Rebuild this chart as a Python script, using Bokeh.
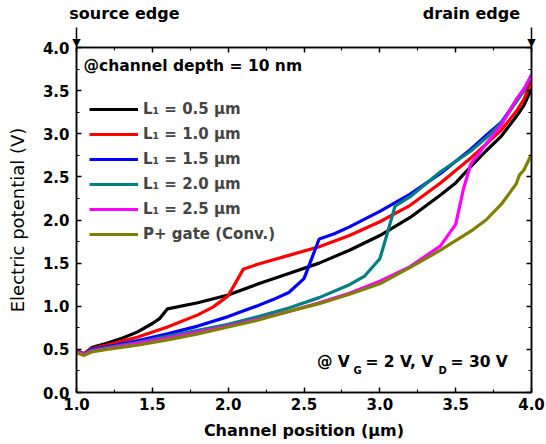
from bokeh.plotting import figure
from bokeh.models import (Legend, LegendItem, LinearAxis, Range1d, Label,
                          NumeralTickFormatter, FixedTicker)
from bokeh.embed import file_html
from bokeh.resources import INLINE

# ---- data ----
x_l05 = [1.0, 1.05, 1.1, 1.2, 1.3, 1.4, 1.5, 1.55, 1.6, 1.8, 2.0, 2.2, 2.4, 2.6, 2.8, 3.0, 3.2, 3.4, 3.5, 3.6, 3.7, 3.8, 3.9, 3.95, 4.0]
y_l05 = [0.48, 0.45, 0.52, 0.57, 0.63, 0.70, 0.80, 0.86, 0.97, 1.04, 1.13, 1.26, 1.38, 1.50, 1.65, 1.82, 2.03, 2.29, 2.43, 2.62, 2.80, 2.97, 3.20, 3.33, 3.52]

x_l10 = [1.0, 1.05, 1.1, 1.2, 1.4, 1.6, 1.8, 1.9, 2.0, 2.1, 2.2, 2.4, 2.6, 2.8, 3.0, 3.2, 3.4, 3.6, 3.7, 3.8, 3.9, 3.95, 4.0]
y_l10 = [0.48, 0.45, 0.51, 0.55, 0.64, 0.76, 0.90, 0.99, 1.12, 1.43, 1.49, 1.59, 1.69, 1.82, 1.98, 2.17, 2.43, 2.72, 2.88, 3.04, 3.26, 3.40, 3.62]

x_l15 = [1.0, 1.05, 1.1, 1.2, 1.4, 1.6, 1.8, 2.0, 2.2, 2.3, 2.4, 2.5, 2.55, 2.6, 2.7, 2.8, 3.0, 3.2, 3.4, 3.6, 3.7, 3.8, 3.9, 3.95, 4.0]
y_l15 = [0.48, 0.44, 0.50, 0.53, 0.60, 0.68, 0.77, 0.88, 1.01, 1.08, 1.16, 1.32, 1.55, 1.78, 1.84, 1.92, 2.10, 2.30, 2.54, 2.82, 2.98, 3.13, 3.38, 3.50, 3.68]

x_l20 = [1.0, 1.05, 1.1, 1.2, 1.4, 1.6, 1.8, 2.0, 2.2, 2.4, 2.6, 2.8, 2.9, 3.0, 3.05, 3.1, 3.2, 3.4, 3.6, 3.7, 3.8, 3.9, 3.95, 4.0]
y_l20 = [0.47, 0.44, 0.49, 0.52, 0.58, 0.65, 0.72, 0.79, 0.88, 0.98, 1.10, 1.25, 1.35, 1.55, 1.85, 2.16, 2.27, 2.56, 2.80, 2.95, 3.12, 3.37, 3.50, 3.68]

x_l25 = [1.0, 1.05, 1.1, 1.2, 1.4, 1.6, 1.8, 2.0, 2.2, 2.4, 2.6, 2.8, 3.0, 3.2, 3.4, 3.5, 3.55, 3.6, 3.7, 3.8, 3.9, 3.95, 4.0]
y_l25 = [0.47, 0.44, 0.48, 0.51, 0.57, 0.63, 0.70, 0.77, 0.85, 0.94, 1.04, 1.15, 1.29, 1.46, 1.70, 1.95, 2.35, 2.65, 2.88, 3.10, 3.40, 3.52, 3.68]

x_conv = [1.0, 1.05, 1.1, 1.2, 1.4, 1.6, 1.8, 2.0, 2.2, 2.4, 2.6, 2.8, 3.0, 3.2, 3.4, 3.6, 3.7, 3.8, 3.85, 3.9, 3.92, 3.95, 4.0]
y_conv = [0.46, 0.43, 0.47, 0.50, 0.55, 0.61, 0.68, 0.76, 0.84, 0.94, 1.03, 1.14, 1.26, 1.45, 1.65, 1.87, 2.00, 2.18, 2.30, 2.42, 2.52, 2.58, 2.76]

series_labels = ["L\u2081 = 0.5 \u03bcm", "L\u2081 = 1.0 \u03bcm", "L\u2081 = 1.5 \u03bcm",
                 "L\u2081 = 2.0 \u03bcm", "L\u2081 = 2.5 \u03bcm", "P+ gate (Conv.)"]
series_colors = ["#000000", "#ff0000", "#0000ff", "#008080", "#ff00ff", "#808000"]
x_ticks = [1.0, 1.5, 2.0, 2.5, 3.0, 3.5, 4.0]
y_ticks = [0.0, 0.5, 1.0, 1.5, 2.0, 2.5, 3.0, 3.5, 4.0]
edge_positions = [1.0, 4.0]
edge_label_centers = [1.316, 3.604]
edge_labels = ["source edge", "drain edge"]

FONT = "DejaVu Sans"

p = figure(width=546, height=444, output_backend="svg", toolbar_location=None,
           x_range=Range1d(1.0, 4.0), y_range=Range1d(0.0, 4.0),
           min_border_left=76, min_border_right=15, min_border_top=47, min_border_bottom=52)
p.grid.visible = False
p.outline_line_color = "black"
p.outline_line_width = 1.5
p.background_fill_color = "white"
p.border_fill_color = "white"

def style_axis(ax, ticks, labels=True):
    ax.ticker = FixedTicker(ticks=ticks, minor_ticks=[t + 0.25 for t in ticks[:-1]])
    ax.major_tick_in = 5
    ax.major_tick_out = 0
    ax.minor_tick_in = 3
    ax.minor_tick_out = 0
    ax.axis_line_width = 1.5
    ax.major_tick_line_width = 1.5
    ax.minor_tick_line_width = 1.2
    ax.axis_line_color = "black"
    ax.major_tick_line_color = "black"
    ax.minor_tick_line_color = "black"
    if labels:
        ax.formatter = NumeralTickFormatter(format="0.0")
        ax.major_label_text_font = FONT
        ax.major_label_text_font_style = "bold"
        ax.major_label_text_font_size = "15px"
        ax.major_label_text_color = "black"
    else:
        ax.major_label_text_font_size = "0px"
        ax.major_label_standoff = 0

xa = p.xaxis[0]
ya = p.yaxis[0]
style_axis(xa, x_ticks)
style_axis(ya, y_ticks)
xa.major_label_standoff = 5
ya.major_label_standoff = 7
xa.axis_label = "Channel position (\u03bcm)"
xa.axis_label_text_font = FONT
xa.axis_label_text_font_style = "bold"
xa.axis_label_text_font_size = "16px"
xa.axis_label_text_color = "black"
xa.axis_label_standoff = 8
ya.axis_label = "Electric potential (V)"
ya.axis_label_text_font = FONT
ya.axis_label_text_font_style = "normal"
ya.axis_label_text_font_size = "18px"
ya.axis_label_text_color = "black"
ya.axis_label_standoff = 12

top_ax = LinearAxis()
style_axis(top_ax, x_ticks, labels=False)
p.add_layout(top_ax, "above")
right_ax = LinearAxis()
style_axis(right_ax, y_ticks, labels=False)
p.add_layout(right_ax, "right")

# arrows at the source / drain edges: shafts are outward ticks, heads are tick labels
arrow_ax = LinearAxis(ticker=FixedTicker(ticks=edge_positions, minor_ticks=[]),
                      major_tick_out=20, major_tick_in=0, major_tick_line_width=1.5,
                      major_tick_line_color="black", axis_line_alpha=0,
                      major_label_overrides={v: "\u25bc" for v in edge_positions},
                      major_label_standoff=-21, major_label_text_font=FONT,
                      major_label_text_font_size="11px", major_label_text_color="black")
p.add_layout(arrow_ax, "above")

text_ax = LinearAxis(ticker=FixedTicker(ticks=edge_label_centers, minor_ticks=[]),
                     major_tick_out=0, major_tick_in=0, axis_line_alpha=0,
                     major_tick_line_alpha=0,
                     major_label_overrides=dict(zip(edge_label_centers, edge_labels)),
                     major_label_standoff=10, major_label_text_font=FONT,
                     major_label_text_font_style="bold",
                     major_label_text_font_size="16px", major_label_text_color="black")
p.add_layout(text_ax, "above")

xs = [x_l05, x_l10, x_l15, x_l20, x_l25, x_conv]
ys = [y_l05, y_l10, y_l15, y_l20, y_l25, y_conv]
renderers = []
for xv, yv, c, lab_ in zip(xs, ys, series_colors, series_labels):
    r = p.line(xv, yv, line_color=c, line_width=3.2)
    renderers.append((lab_, r))
items = [LegendItem(label=l, renderers=[r]) for l, r in renderers]
legend = Legend(items=items, location=(13, 148), padding=0, margin=0, spacing=5,
                glyph_width=49, glyph_height=20, label_height=20, label_standoff=5,
                label_text_font=FONT, label_text_font_style="bold",
                label_text_font_size="15px", border_line_alpha=0,
                background_fill_alpha=0)
p.add_layout(legend, "center")

def lab(text, x, y, size="15.5px", align="left", baseline="middle", style="bold"):
    p.add_layout(Label(x=x, y=y, text=text, text_font=FONT, text_font_style=style,
                       text_font_size=size, text_align=align, text_baseline=baseline,
                       text_color="black"))

lab("@channel depth = 10 nm", 1.046, 3.79)
lab("@ V", 2.585, 0.348)
lab("G", 2.826, 0.255, size="10px")
lab("= 2 V, V", 2.905, 0.348)
lab("D", 3.387, 0.255, size="10px")
lab("= 30 V", 3.466, 0.348)

open("out.html", "w").write(file_html(p, INLINE))
